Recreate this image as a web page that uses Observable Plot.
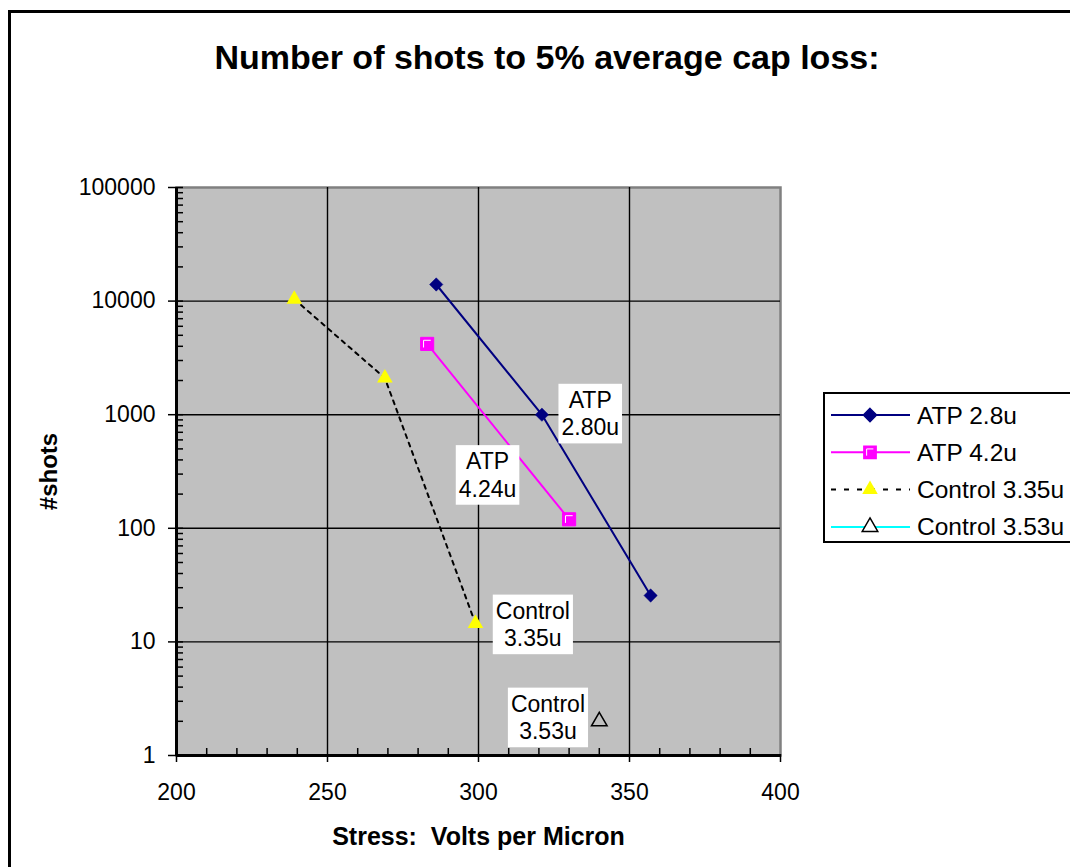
<!DOCTYPE html>
<html>
<head>
<meta charset="utf-8">
<script src="https://cdn.jsdelivr.net/npm/d3@7"></script>
<script src="https://cdn.jsdelivr.net/npm/@observablehq/plot@0.6"></script>
<style>
html,body{margin:0;padding:0;background:#fff;overflow:hidden;}
#wrap{position:relative;width:1070px;height:867px;overflow:hidden;font-family:Arial,"Liberation Sans",sans-serif;color:#000;}
#border{position:absolute;left:8px;top:10px;width:1200px;height:1000px;border-left:3px solid #000;border-top:3px solid #000;box-sizing:border-box;}
#title{position:absolute;left:0;width:1094px;top:38px;text-align:center;font-weight:bold;font-size:34px;line-height:38px;white-space:nowrap;}
#chart{position:absolute;left:0;top:0;}
#legend{position:absolute;left:823px;top:392px;width:270px;height:151px;border:2px solid #000;box-sizing:border-box;background:#fff;}
</style>
</head>
<body>
<div id="wrap">
  <div id="border"></div>
  <div id="chart"></div>
  <div id="title"></div>
  <div id="legend"></div>
</div>
<script>
// ---------- data ----------
const chartTitle = "Number of shots to 5% average cap loss:";
const xTitle = "Stress:  Volts per Micron";
const yTitle = "#shots";
const seriesNames = ["ATP 2.8u", "ATP 4.2u", "Control 3.35u", "Control 3.53u"];

const atp28X = [286, 321, 357];
const atp28Y = [14000, 1000, 25.6];
const atp42X = [283, 330];
const atp42Y = [4200, 120];
const ctl335X = [239, 269, 299];
const ctl335Y = [10400, 2100, 14.5];
const ctl353X = [340];
const ctl353Y = [2];

const noteText = ["ATP\n2.80u", "ATP\n4.24u", "Control\n3.35u", "Control\n3.53u"];
const noteX = [337, 303, 318, 323];
const noteY = [1040, 300, 14.5, 2.2];

const xTicks = [200, 250, 300, 350, 400];
const yTicks = [1, 10, 100, 1000, 10000, 100000];

// ---------- layout ----------
const W = 1070, H = 867, mL = 176, mR = 290, mT = 187, mB = 112;
const plotW = W - mL - mR, plotH = H - mT - mB;
const FONT = 'Arial, "Liberation Sans", sans-serif';
const colors = {navy: "#000080", magenta: "#FF00FF", yellow: "#FFFF00", cyan: "#00FFFF"};

const pts = (xs, ys) => xs.map((x, i) => ({x, y: ys[i]}));
const s1 = pts(atp28X, atp28Y), s2 = pts(atp42X, atp42Y), s3 = pts(ctl335X, ctl335Y), s4 = pts(ctl353X, ctl353Y);
const notes = noteText.map((t, i) => ({t, x: noteX[i], y: noteY[i]}));

const xMinor = d3.range(200, 401, 10).filter(v => v % 50 !== 0);
const yMinor = [];
for (let p = 0; p < 5; p++) for (let k = 2; k <= 9; k++) yMinor.push(k * Math.pow(10, p));

// white L inside the square marker
const cornerL = {draw(ctx, size) { const h = Math.sqrt(size) / 2 * 0.55; ctx.moveTo(-h, h); ctx.lineTo(-h, -h); ctx.lineTo(h, -h); }};

const plot = Plot.plot({
  width: W, height: H,
  marginLeft: mL, marginRight: mR, marginTop: mT, marginBottom: mB,
  style: {fontFamily: FONT, fontSize: "23px", color: "#000", background: "transparent", overflow: "visible"},
  x: {domain: [200, 400], label: null},
  y: {type: "log", domain: [1, 100000], label: null},
  marks: [
    Plot.frame({fill: "#c0c0c0", stroke: "#808080", strokeWidth: 2.5}),
    Plot.ruleX(xTicks.slice(1, -1), {stroke: "#000", strokeWidth: 1.4}),
    Plot.ruleY(yTicks.slice(1, -1), {stroke: "#000", strokeWidth: 1.4}),
    // ticks
    Plot.tickX(xMinor, {insetTop: plotH - 7, stroke: "#000", strokeWidth: 1.5}),
    Plot.tickX(xTicks, {insetTop: plotH - 1, insetBottom: -7, stroke: "#000", strokeWidth: 1.5}),
    Plot.tickY(yMinor, {insetRight: plotW - 7, stroke: "#000", strokeWidth: 1.5}),
    Plot.tickY(yTicks, {insetLeft: -8, insetRight: plotW - 7, stroke: "#000", strokeWidth: 1.5}),
    // axis lines
    Plot.ruleX([200], {stroke: "#000", strokeWidth: 3}),
    Plot.ruleY([1], {x1: 200, x2: 400, stroke: "#000", strokeWidth: 3}),
    // tick labels
    Plot.axisX({ticks: xTicks, tickSize: 0, tickPadding: 28, fontSize: 23, tickFormat: d => String(d), label: null}),
    Plot.axisY({ticks: yTicks, tickSize: 0, tickPadding: 21, fontSize: 23, tickFormat: d => String(d), label: null}),
    // series
    Plot.line(s3, {x: "x", y: "y", stroke: "#000", strokeWidth: 2, strokeDasharray: "4,5"}),
    Plot.line(s1, {x: "x", y: "y", stroke: colors.navy, strokeWidth: 2}),
    Plot.line(s2, {x: "x", y: "y", stroke: colors.magenta, strokeWidth: 2}),
    Plot.dot(s1, {x: "x", y: "y", symbol: "diamond2", r: 6, fill: colors.navy, stroke: colors.navy, strokeWidth: 0.5}),
    Plot.dot(s2, {x: "x", y: "y", symbol: "square", r: 7.4, fill: colors.magenta, stroke: colors.magenta, strokeWidth: 1}),
    Plot.dot(s2, {x: "x", y: "y", symbol: cornerL, r: 7.4, fill: "none", stroke: "#fff", strokeWidth: 1}),
    Plot.dot(s3, {x: "x", y: "y", symbol: "triangle", r: 5.8, fill: colors.yellow, stroke: "none"}),
    Plot.dot(s4, {x: "x", y: "y", symbol: "triangle", r: 5.8, fill: "none", stroke: "#000", strokeWidth: 1.5}),
    // annotations
    Plot.text(notes, {x: "x", y: "y", text: "t", fontSize: 23, lineHeight: 1.2, fill: "#000", textAnchor: "middle"}),
    // axis titles
    Plot.text([xTitle], {frameAnchor: "bottom", dy: 81, textAnchor: "middle", lineAnchor: "middle", fontSize: 25, fontWeight: "bold", fill: "#000"}),
    Plot.text([yTitle], {frameAnchor: "left", dx: -127, rotate: -90, textAnchor: "middle", lineAnchor: "middle", fontSize: 24, fontWeight: "bold", fill: "#000"})
  ]
});
document.getElementById("chart").appendChild(plot);
plot.querySelectorAll("text").forEach(t => t.style.whiteSpace = "pre");

// white boxes behind annotations (first text mark)
const noteGroup = plot.querySelectorAll('g[aria-label="text"]')[0];
if (noteGroup) {
  noteGroup.querySelectorAll("text").forEach(t => {
    const b = t.getBBox();
    const r = document.createElementNS("http://www.w3.org/2000/svg", "rect");
    r.setAttribute("x", b.x - 3);
    r.setAttribute("y", b.y - 3);
    r.setAttribute("width", b.width + 6);
    r.setAttribute("height", b.height + 6);
    r.setAttribute("fill", "#fff");
    r.setAttribute("stroke", "none");
    if (t.getAttribute("transform")) r.setAttribute("transform", t.getAttribute("transform"));
    t.parentNode.insertBefore(r, t);
  });
}

document.getElementById("title").textContent = chartTitle;

// legend
const legendStyles = [
  {stroke: colors.navy, dash: null, symbol: d3.symbolDiamond2, size: 110, fill: colors.navy, mstroke: colors.navy},
  {stroke: colors.magenta, dash: null, symbol: d3.symbolSquare, size: 150, fill: colors.magenta, mstroke: colors.magenta, corner: true},
  {stroke: "#000", dash: "5,8", symbol: d3.symbolTriangle, size: 105, fill: colors.yellow, mstroke: "none"},
  {stroke: colors.cyan, dash: null, symbol: d3.symbolTriangle, size: 105, fill: "#fff", mstroke: "#000"}
];
const lg = d3.select("#legend").append("svg").attr("width", 268).attr("height", 147)
  .style("position", "absolute").style("left", "0px").style("top", "0px");
seriesNames.forEach((name, i) => {
  const st = legendStyles[i];
  const cy = 21 + i * 37.3;
  const g = lg.append("g");
  g.append("line").attr("x1", 6).attr("x2", 85).attr("y1", cy).attr("y2", cy)
    .attr("stroke", st.stroke).attr("stroke-width", 2).attr("stroke-dasharray", st.dash);
  g.append("path").attr("d", d3.symbol(st.symbol, st.size)()).attr("transform", `translate(45,${cy})`)
    .attr("fill", st.fill).attr("stroke", st.mstroke).attr("stroke-width", 1.5);
  if (st.corner) {
    const h = Math.sqrt(st.size) / 2 * 0.55;
    g.append("path").attr("d", `M${-h},${h}L${-h},${-h}L${h},${-h}`).attr("transform", `translate(45,${cy})`)
      .attr("fill", "none").attr("stroke", "#fff").attr("stroke-width", 1);
  }
  g.append("text").attr("x", 92).attr("y", cy).attr("dy", "0.35em")
    .attr("font-family", FONT).attr("font-size", 24.5).attr("fill", "#000").text(name);
});
</script>
</body>
</html>
